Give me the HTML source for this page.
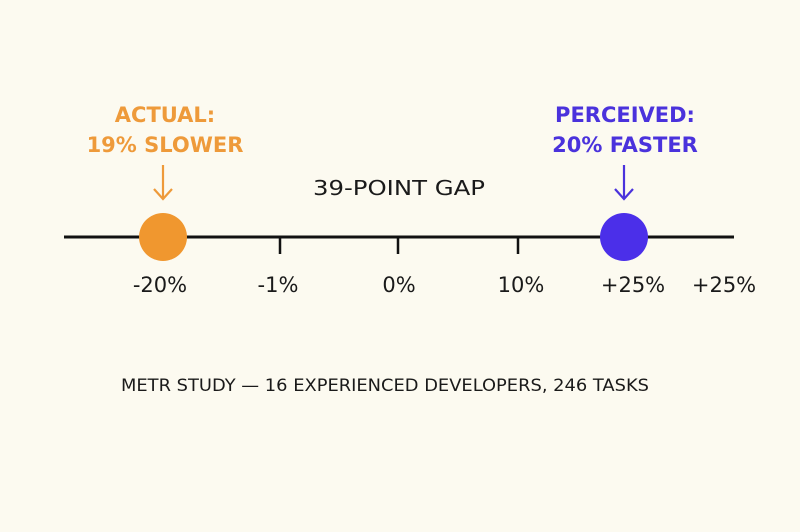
<!DOCTYPE html>
<html><head><style>
body{margin:0;background:#fcfaf0;}
svg{display:block}
text{font-family:"DejaVu Sans","Liberation Sans",sans-serif;}
</style></head><body>
<svg width="800" height="532" viewBox="0 0 800 532">
<rect width="800" height="532" fill="#fcfaf0"/>
<g font-size="21" text-anchor="middle" font-weight="bold">
<text x="165" y="122" fill="#ee9a3a">ACTUAL:</text>
<text x="165" y="152" fill="#ee9a3a">19% SLOWER</text>
<text x="625" y="122" fill="#4a32dc">PERCEIVED:</text>
<text x="625" y="152" fill="#4a32dc">20% FASTER</text>
</g>
<text x="399" y="195" font-size="20" text-anchor="middle" fill="#1a1a1a" textLength="172" lengthAdjust="spacingAndGlyphs">39-POINT GAP</text>
<g stroke="#ee9a3a" stroke-width="2.2" fill="none"><line x1="163" y1="165" x2="163" y2="198"/><polyline points="154,189 163,199 172,189"/></g>
<g stroke="#4a32dc" stroke-width="2.2" fill="none"><line x1="624" y1="165" x2="624" y2="198"/><polyline points="615,189 624,199 633,189"/></g>
<line x1="64" y1="237" x2="734" y2="237" stroke="#111" stroke-width="3"/>
<g stroke="#111" stroke-width="2.5"><line x1="280" y1="237" x2="280" y2="254"/><line x1="398" y1="237" x2="398" y2="254"/><line x1="518" y1="237" x2="518" y2="254"/></g>
<circle cx="163" cy="237" r="24" fill="#f0972f"/>
<circle cx="624" cy="237" r="24" fill="#4b2fe9"/>
<g font-size="21" text-anchor="middle" fill="#1a1a1a">
<text x="160" y="292">-20%</text>
<text x="278" y="292">-1%</text>
<text x="399" y="292">0%</text>
<text x="521" y="292">10%</text>
<text x="633" y="292">+25%</text>
<text x="724" y="292">+25%</text>
</g>
<text x="385" y="391" font-size="16.5" text-anchor="middle" fill="#1a1a1a" textLength="528" lengthAdjust="spacingAndGlyphs">METR STUDY — 16 EXPERIENCED DEVELOPERS, 246 TASKS</text>
</svg>
</body></html>
